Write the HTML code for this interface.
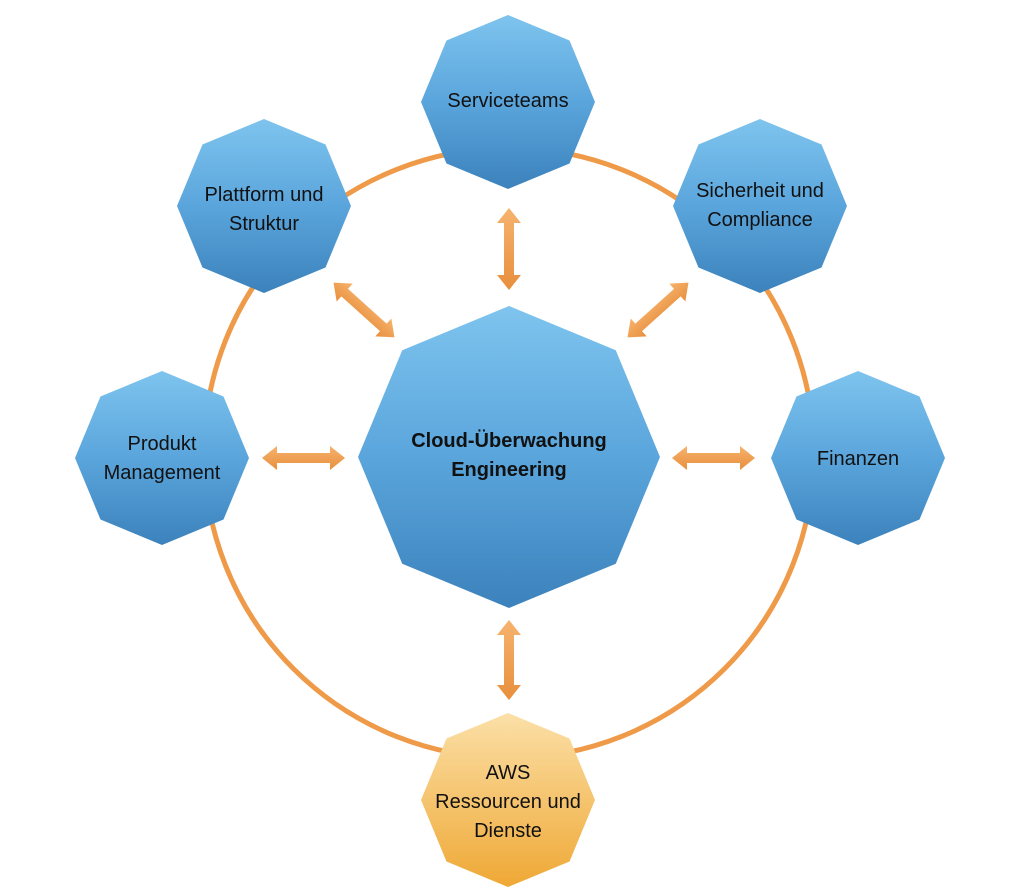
<!DOCTYPE html>
<html><head><meta charset="utf-8"><style>
html,body{margin:0;padding:0;background:#fff;width:1024px;height:895px;overflow:hidden}
svg{display:block}
text{font-family:"Liberation Sans",sans-serif;font-size:20px;fill:#111;text-anchor:middle}
</style></head><body>
<svg width="1024" height="895" viewBox="0 0 1024 895">
<defs>
<linearGradient id="b" x1="0" y1="0" x2="0" y2="1">
<stop offset="0" stop-color="#7ec4ee"/><stop offset="0.5" stop-color="#5aa5dc"/><stop offset="1" stop-color="#3c82bc"/></linearGradient>
<linearGradient id="o" x1="0" y1="0" x2="0" y2="1">
<stop offset="0" stop-color="#fbe0a8"/><stop offset="1" stop-color="#efa835"/></linearGradient>
<linearGradient id="a" x1="0" y1="0" x2="0" y2="1">
<stop offset="0" stop-color="#f6b36e"/><stop offset="1" stop-color="#e88f3c"/></linearGradient>
<polygon id="oct" points="0,-1 0.7071,-0.7071 1,0 0.7071,0.7071 0,1 -0.7071,0.7071 -1,0 -0.7071,-0.7071"/>
</defs>
<circle cx="509" cy="453" r="305" fill="none" stroke="#ef9a48" stroke-width="5"/>
<g fill="url(#a)">
<polygon points="509,208 521,223 514,223 514,275 521,275 509,290 497,275 504,275 504,223 497,223"/>
<polygon points="509,620 521,635 514,635 514,685 521,685 509,700 497,685 504,685 504,635 497,635"/>
<polygon points="262,458 277,446 277,453 330,453 330,446 345,458 330,470 330,463 277,463 277,470"/>
<polygon points="672,458 687,446 687,453 740,453 740,446 755,458 740,470 740,463 687,463 687,470"/>
<polygon transform="translate(364,310) rotate(42)" points="-41,0 -26,-12 -26,-5 26,-5 26,-12 41,0 26,12 26,5 -26,5 -26,12"/>
<polygon transform="translate(658,310) rotate(-42)" points="-41,0 -26,-12 -26,-5 26,-5 26,-12 41,0 26,12 26,5 -26,5 -26,12"/>
</g>
<g fill="url(#b)">
<use href="#oct" transform="translate(509,457) scale(151)"/>
<use href="#oct" transform="translate(508,102) scale(87)"/>
<use href="#oct" transform="translate(264,206) scale(87)"/>
<use href="#oct" transform="translate(760,206) scale(87)"/>
<use href="#oct" transform="translate(162,458) scale(87)"/>
<use href="#oct" transform="translate(858,458) scale(87)"/>
</g>
<use href="#oct" fill="url(#o)" transform="translate(508,800) scale(87)"/>
<text x="509" y="447" style="font-weight:bold">Cloud-Überwachung</text>
<text x="509" y="476" style="font-weight:bold">Engineering</text>
<text x="508" y="107">Serviceteams</text>
<text x="264" y="201">Plattform und</text>
<text x="264" y="230">Struktur</text>
<text x="760" y="197">Sicherheit und</text>
<text x="760" y="226">Compliance</text>
<text x="162" y="450">Produkt</text>
<text x="162" y="479">Management</text>
<text x="858" y="465">Finanzen</text>
<text x="508" y="779">AWS</text>
<text x="508" y="808">Ressourcen und</text>
<text x="508" y="837">Dienste</text>
</svg>
</body></html>
